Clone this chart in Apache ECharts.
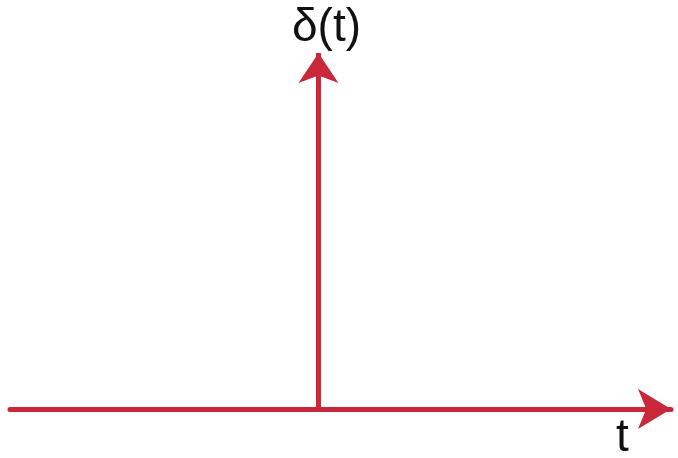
<!DOCTYPE html>
<html>
<head>
<meta charset="utf-8">
<script src="https://cdn.jsdelivr.net/npm/echarts@6/dist/echarts.min.js"></script>
<style>html,body{margin:0;padding:0;background:#fff;}#c{width:678px;height:458px;}</style>
</head>
<body>
<div id="c"></div>
<script>
// Data: unit impulse δ(t) at t = 0
const impulseT = [0, 0];
const impulseV = [0, 1];
const yLabel = 'δ(t)';
const xLabel = 't';

const RED = '#c8283a';
const chart = echarts.init(document.getElementById('c'));
chart.setOption({
  animation: false,
  grid: { left: 10, right: 7, top: 53, bottom: 49 },
  xAxis: {
    type: 'value', min: -7, max: 8,
    axisLine: { show: true, onZero: true, lineStyle: { color: RED, width: 5 },
      symbol: ['none', 'arrow'], symbolSize: [30, 33] },
    axisTick: { show: false }, axisLabel: { show: false }, splitLine: { show: false }
  },
  yAxis: {
    type: 'value', min: 0, max: 1,
    axisLine: { show: false }, axisTick: { show: false }, axisLabel: { show: false }, splitLine: { show: false }
  },
  graphic: [
    { type: 'text', left: 292, top: 5, style: { text: yLabel, fontSize: 46, fontFamily: 'Liberation Sans, Arial, sans-serif', fill: '#111' } },
    { type: 'text', left: 616, top: 415, style: { text: xLabel, fontSize: 46, fontFamily: 'Liberation Sans, Arial, sans-serif', fill: '#111' } }
  ],
  series: [{
    type: 'line',
    data: impulseT.map((t, i) => ({ value: [t, impulseV[i]], symbol: i === impulseT.length - 1 ? 'arrow' : 'none', symbolSize: [30, 30] })),
    lineStyle: { color: RED, width: 5 },
    itemStyle: { color: RED },
    showSymbol: true
  }]
});
</script>
</body>
</html>
